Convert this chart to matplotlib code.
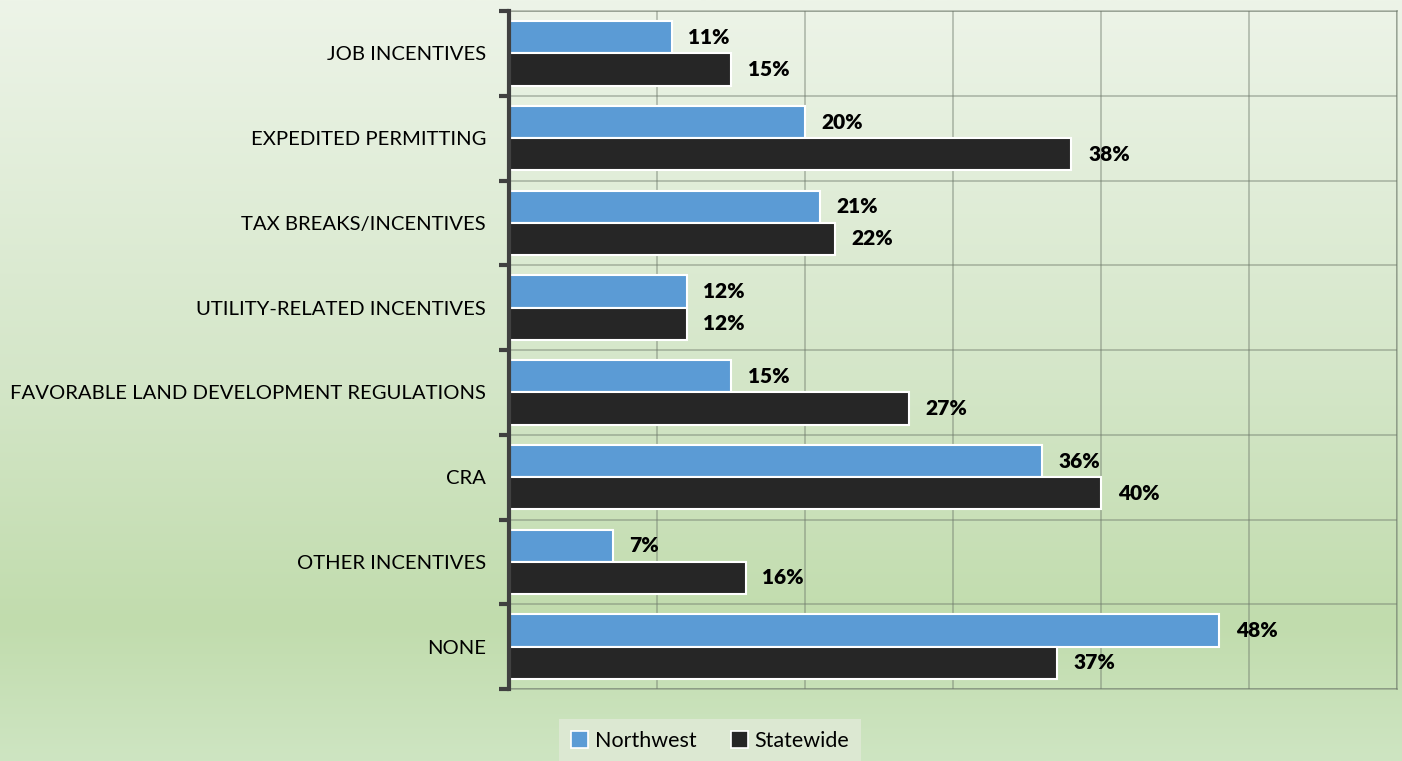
import numpy as np
import matplotlib

matplotlib.use("Agg")
import matplotlib.pyplot as plt
from matplotlib.colors import LinearSegmentedColormap
from matplotlib.patches import Patch

categories = [
    "JOB INCENTIVES",
    "EXPEDITED PERMITTING",
    "TAX BREAKS/INCENTIVES",
    "UTILITY-RELATED INCENTIVES",
    "FAVORABLE LAND DEVELOPMENT REGULATIONS",
    "CRA",
    "OTHER INCENTIVES",
    "NONE",
]
northwest = [11, 20, 21, 12, 15, 36, 7, 48]
statewide = [15, 38, 22, 12, 27, 40, 16, 37]
series_names = ["Northwest", "Statewide"]

BLUE = "#5b9bd5"
DARK = "#262626"
FONT = "Lato"

fig = plt.figure(figsize=(14.02, 7.61), dpi=100)

# gradient background
bg = fig.add_axes([0, 0, 1, 1], zorder=-10)
bg_cmap = LinearSegmentedColormap.from_list(
    "bg",
    [
        (0.0, (237 / 255, 244 / 255, 232 / 255)),
        (0.5, (212 / 255, 230 / 255, 200 / 255)),
        (0.82, (193 / 255, 220 / 255, 173 / 255)),
        (1.0, (206 / 255, 229 / 255, 194 / 255)),
    ],
)
bg.imshow(np.linspace(0, 1, 256).reshape(-1, 1), aspect="auto", cmap=bg_cmap,
          extent=[0, 1, 0, 1], origin="upper")
bg.axis("off")

ax = fig.add_axes([509 / 1402, 1 - 689 / 761, 888 / 1402, 678 / 761])
ax.set_facecolor("none")

y = np.arange(len(categories))
h = 0.38
off = 0.19
ax.barh(y - off, northwest, height=h, color=BLUE, edgecolor="white", linewidth=1.5, zorder=3)
ax.barh(y + off, statewide, height=h, color=DARK, edgecolor="white", linewidth=1.5, zorder=3)

for yy, v in zip(y - off, northwest):
    ax.annotate(f"{v}%", (v, yy), xytext=(12, 0), textcoords="offset points",
                va="center", ha="left", fontsize=15, fontweight="heavy", family=FONT)
for yy, v in zip(y + off, statewide):
    ax.annotate(f"{v}%", (v, yy), xytext=(12, 0), textcoords="offset points",
                va="center", ha="left", fontsize=15, fontweight="heavy", family=FONT)

ax.set_xlim(0, 60)
ax.set_ylim(len(categories) - 0.5, -0.5)
ax.set_xticks(np.arange(0, 61, 10))
ax.set_xticklabels([])
ax.tick_params(axis="x", length=0)

# category boundaries carry ticks + horizontal grid
ax.set_yticks(np.arange(-0.5, len(categories), 1.0))
ax.set_yticklabels([])
ax.set_yticks(y, minor=True)
ax.set_yticklabels(categories, minor=True, fontsize=14.6, family=FONT)
ax.tick_params(axis="y", which="minor", length=0, pad=16.5)
ax.tick_params(axis="y", which="major", length=7, width=3, color="#404040", direction="out")

ax.grid(True, which="major", color="#6f7a6c", alpha=0.45, linewidth=1.3, zorder=0)
ax.set_axisbelow(True)

for side in ["top", "right", "bottom"]:
    ax.spines[side].set_color("#6f7a6c")
    ax.spines[side].set_alpha(0.45)
    ax.spines[side].set_linewidth(1.3)
ax.spines["left"].set_color("#404040")
ax.spines["left"].set_linewidth(3)
ax.spines["left"].set_zorder(5)

handles = [
    Patch(facecolor=BLUE, edgecolor="white", linewidth=1.2),
    Patch(facecolor=DARK, edgecolor="white", linewidth=1.2),
]
leg = fig.legend(handles, series_names, loc="center", bbox_to_anchor=(710 / 1402, 1 - 741 / 761),
                 ncol=2, frameon=True, prop={"family": FONT, "size": 15.5},
                 handlelength=0.8, handleheight=0.8, handletextpad=0.3, columnspacing=1.6,
                 borderpad=0.55, borderaxespad=0, fancybox=False)
leg.get_frame().set_facecolor((220 / 255, 232 / 255, 210 / 255))
leg.get_frame().set_edgecolor("none")
leg.get_frame().set_alpha(1)

fig.savefig("out.png", dpi=100)
